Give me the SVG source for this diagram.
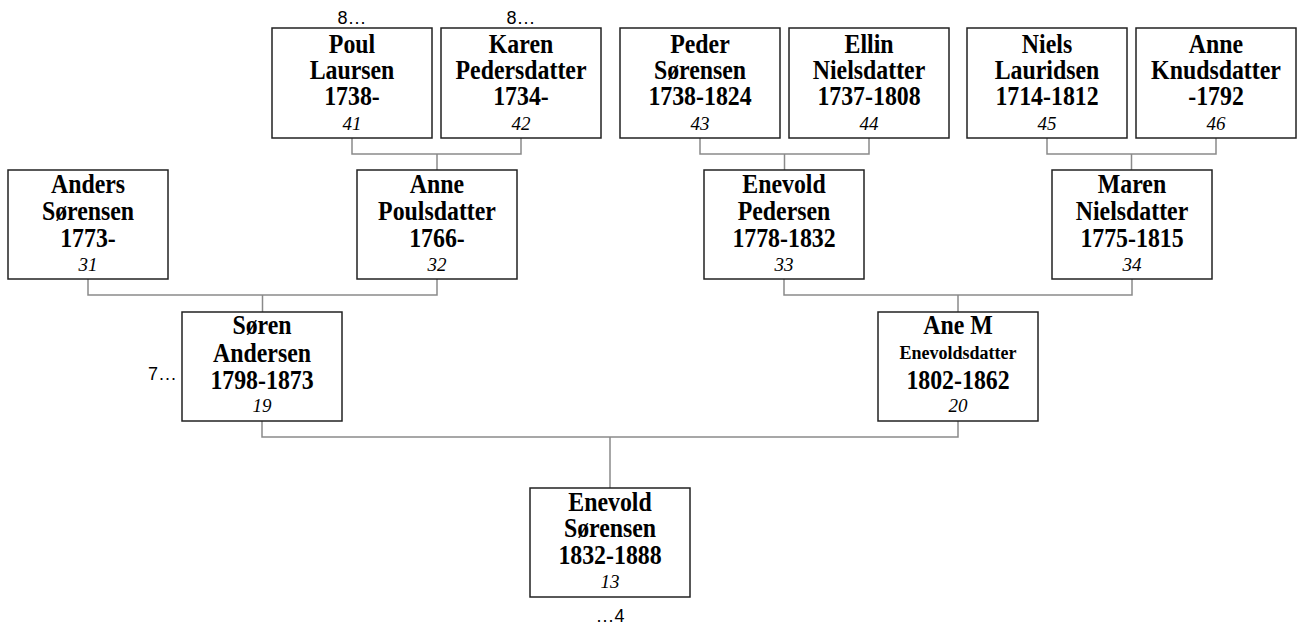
<svg xmlns="http://www.w3.org/2000/svg" width="1301" height="625" viewBox="0 0 1301 625">
<style>
.box{fill:#fff;stroke:#222;stroke-width:1.5}
.n{font-family:"Liberation Serif","Times New Roman",serif;font-weight:bold;font-size:26.5px;text-anchor:middle;fill:#000}
.s{font-family:"Liberation Serif","Times New Roman",serif;font-weight:bold;font-size:18px;text-anchor:middle;fill:#000}
.i{font-family:"Liberation Serif","Times New Roman",serif;font-style:italic;font-size:19px;text-anchor:middle;fill:#000}
.m{font-family:"Liberation Sans",Arial,sans-serif;font-size:18px;letter-spacing:1px;fill:#000}
.c{fill:none;stroke:#8a8a8a;stroke-width:1.5}
</style>
<rect width="1301" height="625" fill="#fff"/>
<g id="connectors">
<path class="c" d="M352 138V154H521V138M437 154V170"/>
<path class="c" d="M700 138V154H869V138M784.5 154V170"/>
<path class="c" d="M1047 138V154H1216V138M1131.5 154V170"/>
<path class="c" d="M88 279V295H437V279M262.5 295V312"/>
<path class="c" d="M784 279V295H1132V279M958 295V312"/>
<path class="c" d="M262 421V437H958V421M610 437V488"/>
</g>
<g id="n41"><rect class="box" x="272" y="28" width="160" height="110"/>
<g transform="translate(352 0) scale(0.9 1)"><text class="n" x="0" y="53">Poul</text><text class="n" x="0" y="79">Laursen</text><text class="n" x="0" y="105">1738-</text></g><text class="i" x="352" y="130">41</text></g>
<g id="n42"><rect class="box" x="441" y="28" width="160" height="110"/>
<g transform="translate(521 0) scale(0.9 1)"><text class="n" x="0" y="53">Karen</text><text class="n" x="0" y="79">Pedersdatter</text><text class="n" x="0" y="105">1734-</text></g><text class="i" x="521" y="130">42</text></g>
<g id="n43"><rect class="box" x="620" y="28" width="160" height="110"/>
<g transform="translate(700 0) scale(0.9 1)"><text class="n" x="0" y="53">Peder</text><text class="n" x="0" y="79">Sørensen</text><text class="n" x="0" y="105">1738-1824</text></g><text class="i" x="700" y="130">43</text></g>
<g id="n44"><rect class="box" x="789" y="28" width="160" height="110"/>
<g transform="translate(869 0) scale(0.9 1)"><text class="n" x="0" y="53">Ellin</text><text class="n" x="0" y="79">Nielsdatter</text><text class="n" x="0" y="105">1737-1808</text></g><text class="i" x="869" y="130">44</text></g>
<g id="n45"><rect class="box" x="967" y="28" width="160" height="110"/>
<g transform="translate(1047 0) scale(0.9 1)"><text class="n" x="0" y="53">Niels</text><text class="n" x="0" y="79">Lauridsen</text><text class="n" x="0" y="105">1714-1812</text></g><text class="i" x="1047" y="130">45</text></g>
<g id="n46"><rect class="box" x="1136" y="28" width="160" height="110"/>
<g transform="translate(1216 0) scale(0.9 1)"><text class="n" x="0" y="53">Anne</text><text class="n" x="0" y="79">Knudsdatter</text><text class="n" x="0" y="105">-1792</text></g><text class="i" x="1216" y="130">46</text></g>
<g id="n31"><rect class="box" x="8" y="170" width="160" height="109"/>
<g transform="translate(88 0) scale(0.9 1)"><text class="n" x="0" y="193">Anders</text><text class="n" x="0" y="220">Sørensen</text><text class="n" x="0" y="247">1773-</text></g><text class="i" x="88" y="271">31</text></g>
<g id="n32"><rect class="box" x="357" y="170" width="160" height="109"/>
<g transform="translate(437 0) scale(0.9 1)"><text class="n" x="0" y="193">Anne</text><text class="n" x="0" y="220">Poulsdatter</text><text class="n" x="0" y="247">1766-</text></g><text class="i" x="437" y="271">32</text></g>
<g id="n33"><rect class="box" x="704" y="170" width="160" height="109"/>
<g transform="translate(784 0) scale(0.9 1)"><text class="n" x="0" y="193">Enevold</text><text class="n" x="0" y="220">Pedersen</text><text class="n" x="0" y="247">1778-1832</text></g><text class="i" x="784" y="271">33</text></g>
<g id="n34"><rect class="box" x="1052" y="170" width="160" height="109"/>
<g transform="translate(1132 0) scale(0.9 1)"><text class="n" x="0" y="193">Maren</text><text class="n" x="0" y="220">Nielsdatter</text><text class="n" x="0" y="247">1775-1815</text></g><text class="i" x="1132" y="271">34</text></g>
<g id="n19"><rect class="box" x="182" y="312" width="160" height="109"/>
<g transform="translate(262 0) scale(0.9 1)"><text class="n" x="0" y="334">Søren</text><text class="n" x="0" y="362">Andersen</text><text class="n" x="0" y="389">1798-1873</text></g><text class="i" x="262" y="412">19</text></g>
<g id="n20"><rect class="box" x="878" y="312" width="160" height="109"/>
<g transform="translate(958 0) scale(0.9 1)"><text class="n" x="0" y="334">Ane M</text><text class="n" x="0" y="389">1802-1862</text></g><text class="s" x="958" y="359">Enevoldsdatter</text><text class="i" x="958" y="412">20</text></g>
<g id="n13"><rect class="box" x="530" y="488" width="160" height="109"/>
<g transform="translate(610 0) scale(0.9 1)"><text class="n" x="0" y="511">Enevold</text><text class="n" x="0" y="537">Sørensen</text><text class="n" x="0" y="564">1832-1888</text></g><text class="i" x="610" y="588">13</text></g>
<g id="labels">
<text class="m" x="352" y="24" text-anchor="middle">8...</text>
<text class="m" x="521" y="24" text-anchor="middle">8...</text>
<text class="m" x="177" y="380" text-anchor="end">7...</text>
<text class="m" x="611" y="622" text-anchor="middle">...4</text>
</g>
</svg>
